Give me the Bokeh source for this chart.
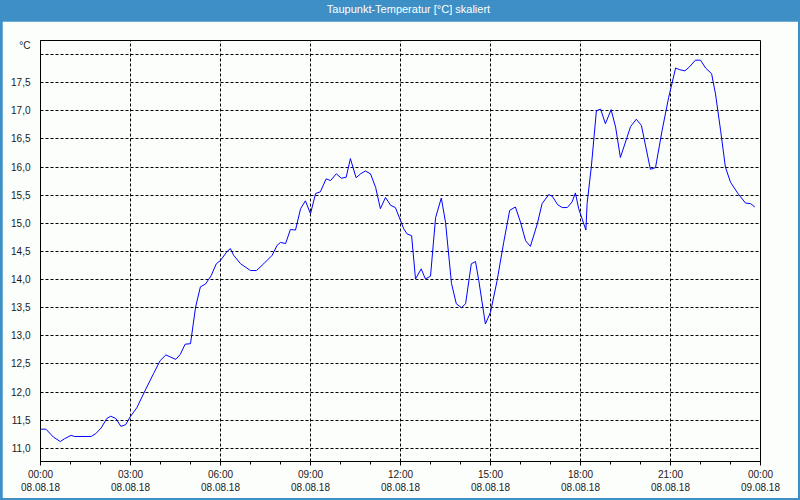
from bokeh.plotting import figure
from bokeh.models import Range1d, FixedTicker
from bokeh.layouts import column
from bokeh.core.properties import value
from bokeh.embed import file_html
from bokeh.resources import INLINE

# ---- data ----
hours = [0.00, 0.18, 0.43, 0.66, 0.80, 1.02, 1.13, 1.69, 1.84, 2.02, 2.21, 2.34, 2.51, 2.68, 2.84, 2.99,
         3.21, 3.49, 3.77, 3.99, 4.18, 4.34, 4.51, 4.66, 4.82, 5.00, 5.17, 5.33, 5.50, 5.69, 5.86, 6.00,
         6.22, 6.33, 6.44, 6.67, 7.00, 7.20, 7.44, 7.72, 7.89, 8.00, 8.17, 8.33, 8.50, 8.67, 8.83, 9.00,
         9.17, 9.33, 9.52, 9.67, 9.86, 10.03, 10.19, 10.33, 10.52, 10.67, 10.83, 11.00, 11.17, 11.33,
         11.50, 11.67, 11.83, 12.00, 12.11, 12.22, 12.37, 12.50, 12.69, 12.83, 13.00, 13.17, 13.36, 13.50,
         13.70, 13.86, 14.03, 14.17, 14.36, 14.50, 14.61, 14.83, 15.00, 15.22, 15.44, 15.64, 15.83, 16.00,
         16.17, 16.33, 16.56, 16.72, 16.94, 17.06, 17.24, 17.39, 17.56, 17.72, 17.83, 17.94, 18.11, 18.18,
         18.22, 18.36, 18.53, 18.67, 18.83, 19.02, 19.17, 19.33, 19.67, 19.86, 20.03, 20.33, 20.50, 20.72,
         20.94, 21.17, 21.31, 21.48, 21.63, 21.83, 22.00, 22.17, 22.37, 22.50, 22.67, 22.83, 23.00, 23.26,
         23.50, 23.67, 23.81]
dewpoint = [11.34, 11.34, 11.20, 11.12, 11.17, 11.23, 11.21, 11.21, 11.26, 11.36, 11.53, 11.57, 11.53, 11.39, 11.42, 11.56,
            11.72, 12.03, 12.33, 12.56, 12.66, 12.62, 12.58, 12.67, 12.85, 12.86, 13.51, 13.87, 13.92, 14.07, 14.28, 14.34,
            14.50, 14.55, 14.43, 14.28, 14.16, 14.16, 14.28, 14.43, 14.61, 14.66, 14.64, 14.89, 14.88, 15.26, 15.40, 15.17,
            15.53, 15.56, 15.79, 15.76, 15.88, 15.80, 15.82, 16.15, 15.81, 15.88, 15.93, 15.88, 15.64, 15.26,
            15.46, 15.32, 15.28, 15.05, 14.90, 14.81, 14.78, 14.01, 14.19, 14.01, 14.06, 15.10, 15.45, 15.02,
            13.93, 13.57, 13.50, 13.57, 14.28, 14.32, 13.98, 13.21, 13.42, 13.98, 14.66, 15.23, 15.29, 15.02,
            14.69, 14.59, 14.99, 15.35, 15.51, 15.48, 15.33, 15.28, 15.28, 15.38, 15.54, 15.26, 14.99, 14.88,
            15.35, 16.00, 17.00, 17.03, 16.77, 17.02, 16.71, 16.17, 16.72, 16.85, 16.74, 15.96, 15.99, 16.65,
            17.24, 17.76, 17.73, 17.71, 17.78, 17.90, 17.90, 17.76, 17.66, 17.30, 16.65, 16.00, 15.73, 15.52,
            15.36, 15.35, 15.29]

x_tick_hours = [0, 3, 6, 9, 12, 15, 18, 21, 24]
time_labels = ["00:00", "03:00", "06:00", "09:00", "12:00", "15:00", "18:00", "21:00", "00:00"]
date_labels = ["08.08.18"] * 8 + ["09.08.18"]
y_ticks = [11.0, 11.5, 12.0, 12.5, 13.0, 13.5, 14.0, 14.5, 15.0, 15.5, 16.0, 16.5, 17.0, 17.5]
y_tick_labels = ["11,0", "11,5", "12,0", "12,5", "13,0", "13,5", "14,0", "14,5", "15,0", "15,5",
                 "16,0", "16,5", "17,0", "17,5"]
y_grid_lines = [11.0, 11.5, 12.0, 12.5, 13.0, 13.5, 14.0, 14.5, 15.0, 15.5, 16.0, 16.5, 17.0, 17.5, 18.0]
title_text = "Taupunkt-Temperatur [°C] skaliert"
unit_text = "°C"

# ---- style / layout ----
BLUE = "#3d8fc6"
BG = "#fcfefc"
FONT = "Liberation Sans"
TXT = "#1a1a1a"
UNIT_POS = 18.16   # vertical position of the unit caption (layout, not data)

header = figure(width=800, height=21, x_range=Range1d(0, 1), y_range=Range1d(0, 1),
                toolbar_location=None, output_backend="svg", min_border=0,
                x_axis_location=None, y_axis_location=None,
                background_fill_color=BLUE, border_fill_color=BLUE, outline_line_color=None)
header.grid.visible = False
header.text(x=[0.511], y=[0.58], text=[title_text], text_color="white",
            text_font=value(FONT), text_font_size="11px", text_align="center",
            text_baseline="middle")

p = figure(frame_width=720, frame_height=421, x_range=Range1d(0, 24), y_range=Range1d(10.765, 18.25),
           toolbar_location=None, output_backend="svg",
           min_border_left=38, min_border_right=38, min_border_top=19, min_border_bottom=37,
           background_fill_color=BG, border_fill_color=BG, outline_line_color="black",
           margin=(0, 2, 2, 2))

p.line(hours, dewpoint, line_color="#0000ff", line_width=1)

p.xaxis.ticker = FixedTicker(ticks=x_tick_hours, minor_ticks=list(range(25)))
p.xaxis.major_label_overrides = {h: f"{t}\n{d}" for h, t, d in zip(x_tick_hours, time_labels, date_labels)}

y_overrides = {v: s for v, s in zip(y_ticks, y_tick_labels)}
y_overrides[UNIT_POS] = unit_text
p.yaxis.ticker = FixedTicker(ticks=y_ticks + [UNIT_POS])
p.yaxis.major_label_overrides = y_overrides

for ax in (p.xaxis, p.yaxis):
    ax.axis_line_color = "black"
    ax.major_label_text_font = FONT
    ax.major_label_text_font_size = "10px"
    ax.major_label_text_color = TXT

p.xaxis.major_tick_line_color = "black"
p.xaxis.major_tick_out = 4
p.xaxis.major_tick_in = 0
p.xaxis.minor_tick_line_color = "black"
p.xaxis.minor_tick_out = 3
p.xaxis.minor_tick_in = 0
p.xaxis.major_label_standoff = 3

p.yaxis.major_tick_line_color = None
p.yaxis.minor_tick_line_color = None
p.yaxis.major_label_standoff = 4

p.xgrid.grid_line_color = "black"
p.xgrid.grid_line_dash = "3 2"
p.ygrid.ticker = FixedTicker(ticks=y_grid_lines)
p.ygrid.grid_line_color = "black"
p.ygrid.grid_line_dash = "3 2"

layout = column(header, p, spacing=0, styles={"background-color": BLUE})

open("out.html", "w").write(file_html(layout, INLINE))
